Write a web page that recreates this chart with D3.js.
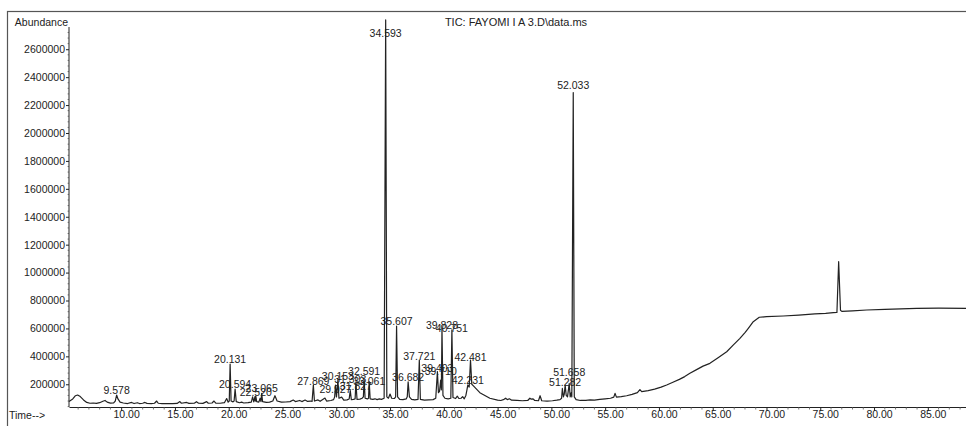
<!DOCTYPE html>
<html>
<head>
<meta charset="utf-8">
<script src="https://cdn.jsdelivr.net/npm/d3@7/dist/d3.min.js"></script>
<style>
  html, body { margin: 0; padding: 0; background: #fff; }
  svg { display: block; }
  text { font-family: "Liberation Sans", Arial, sans-serif; fill: #222; }
</style>
</head>
<body>
<svg id="chart" width="966" height="426"></svg>
<script>
// ---------------- DATA ----------------
const title = "TIC: FAYOMI I A 3.D\\data.ms";
const yLabel = "Abundance";
const xLabel = "Time-->";

const yTicks = [200000, 400000, 600000, 800000, 1000000, 1200000, 1400000,
                1600000, 1800000, 2000000, 2200000, 2400000, 2600000];
const xTicks = [10, 15, 20, 25, 30, 35, 40, 45, 50, 55, 60, 65, 70, 75, 80, 85];

// retention time (min)
const time = [
  5.15, 5.5, 5.75, 5.95, 6.2, 6.5, 6.8, 7.1, 7.4, 7.7, 8.0, 8.3, 8.5, 8.7, 9.0, 9.3, 9.45, 9.578, 9.7, 9.9,
  10.2, 10.6, 10.97, 11.2, 11.5, 11.7, 12.0, 12.21, 12.4, 12.8, 13.1, 13.3, 13.45, 13.8, 14.3, 14.8,
  15.2, 15.46, 15.6, 16.09, 16.3, 16.8, 17.0, 17.2, 17.6, 17.95, 18.1, 18.45, 18.63, 18.8, 19.2, 19.6,
  19.81, 19.95, 20.05, 20.131, 20.22, 20.4, 20.5, 20.594, 20.7, 21.0, 21.2, 21.4, 21.8, 22.1, 22.22,
  22.33, 22.44, 22.48, 22.52, 22.6, 22.8, 22.92, 23.0, 23.065, 23.15, 23.5, 23.8, 24.1, 24.3, 24.5,
  24.9, 25.3, 25.7, 26.0, 26.2, 26.6, 26.8, 27.1, 27.3, 27.6, 27.75, 27.869, 27.97, 28.3, 28.5, 28.95,
  29.1, 29.5, 29.75, 29.85, 29.927, 30.02, 30.153, 30.25, 30.5, 30.7, 31.0, 31.2, 31.303, 31.4, 31.6,
  31.75, 31.827, 31.93, 32.2, 32.4, 32.52, 32.591, 32.68, 32.9, 33.0, 33.061, 33.15, 33.4, 33.6, 33.8,
  34.0, 34.2, 34.45, 34.593, 34.7, 34.85, 35.0, 35.15, 35.4, 35.52, 35.607, 35.7, 35.9, 36.2, 36.5,
  36.6, 36.682, 36.8, 37.0, 37.3, 37.6, 37.721, 37.82, 38.2, 38.6, 39.0, 39.25, 39.403, 39.5, 39.6,
  39.71, 39.77, 39.828, 39.92, 40.1, 40.4, 40.65, 40.751, 40.85, 41.1, 41.25, 41.4, 41.6, 41.75, 41.9,
  42.05, 42.15, 42.231, 42.36, 42.481, 42.6, 42.73, 43.35, 44.28, 45.0, 45.3, 45.6, 45.75, 45.9, 46.1,
  46.3, 46.8, 47.3, 47.8, 48.0, 48.1, 48.3, 48.45, 48.8, 48.95, 49.1, 49.6, 50.1, 50.5, 50.8, 50.95,
  51.02, 51.12, 51.2, 51.282, 51.38, 51.5, 51.658, 51.75, 51.85, 51.9, 52.033, 52.13, 52.3, 52.7,
  53.2, 53.6, 54.0, 54.5, 55.0, 55.5, 55.8, 55.92, 56.05, 56.5, 57.0, 57.5, 58.0, 58.23, 58.4, 59.0,
  59.6, 60.2, 60.72, 61.3, 61.9, 62.4, 62.88, 63.5, 64.1, 64.74, 65.5, 66.3, 66.9, 67.53, 68.0, 68.31,
  68.77, 69.33, 70.0, 71.56, 73.0, 74.5, 75.5, 76.21, 76.55, 76.71, 76.88, 77.0, 78.0, 79.31, 81.0,
  83.96, 86.0, 88.55
];

// total ion current abundance
const abundance = [
  77000, 95000, 118000, 123000, 112000, 88000, 70000, 64000, 66000, 63000, 68000, 78000, 84000, 72000, 65000, 66000, 80000, 123000, 95000, 72000,
  66000, 62000, 70000, 62000, 68000, 62000, 64000, 70000, 63000, 62000, 64000, 80000, 64000, 62000, 61000, 62000,
  63000, 76000, 64000, 70000, 63000, 64000, 75000, 64000, 63000, 76000, 64000, 66000, 80000, 65000, 64000, 68000,
  98000, 72000, 80000, 345000, 80000, 74000, 80000, 166000, 76000, 68000, 72000, 66000, 68000, 72000, 110000,
  74000, 112000, 80000, 116000, 76000, 72000, 100000, 76000, 135000, 76000, 70000, 72000, 80000, 118000, 80000,
  72000, 73000, 76000, 87000, 76000, 84000, 76000, 87000, 78000, 80000, 78000, 195000, 80000, 88000, 78000, 101000,
  80000, 84000, 90000, 110000, 195000, 110000, 231000, 100000, 108000, 86000, 88000, 95000, 155000, 90000, 92000,
  95000, 212000, 92000, 94000, 100000, 110000, 232000, 100000, 95000, 100000, 220000, 96000, 92000, 96000, 90000,
  95000, 92000, 100000, 2810000, 110000, 100000, 130000, 100000, 98000, 110000, 617000, 110000, 92000, 90000, 95000,
  110000, 218000, 110000, 92000, 88000, 92000, 374000, 92000, 86000, 88000, 90000, 100000, 290000, 140000, 150000,
  230000, 160000, 600000, 120000, 100000, 96000, 100000, 589000, 105000, 98000, 115000, 98000, 100000, 112000, 96000,
  120000, 160000, 195000, 180000, 374000, 200000, 190000, 140000, 100000, 86000, 84000, 92000, 100000, 90000, 96000,
  86000, 84000, 82000, 84000, 100000, 94000, 96000, 84000, 82000, 118000, 82000, 80000, 82000, 86000, 90000, 100000,
  170000, 110000, 130000, 195000, 120000, 110000, 205000, 110000, 140000, 110000, 2290000, 110000, 90000, 84000,
  85000, 88000, 87000, 92000, 96000, 100000, 108000, 135000, 108000, 112000, 118000, 128000, 140000, 162000, 148000, 155000,
  165000, 180000, 195000, 215000, 235000, 255000, 279000, 305000, 330000, 350000, 390000, 433000, 480000, 529000, 570000, 601000,
  648000, 680000, 684000, 689000, 696000, 704000, 708000, 713000, 714000, 1078000, 730000, 722000, 726000, 732000, 737000,
  744000, 745000, 744000
];

// peak annotations: retention time text and the abundance level the label sits at
const peakLabels = ["9.578", "20.131", "20.594", "22.520", "23.065", "27.869", "29.927", "30.153",
                    "31.303", "31.827", "32.591", "33.061", "34.593", "35.607", "36.682", "37.721",
                    "39.403", "39.710", "39.828", "40.751", "42.231", "42.481", "51.282", "51.658", "52.033"];
const labelLevels = [130000, 352000, 173000, 116000, 145000, 195000, 137000, 231000,
                     209000, 159000, 266000, 195000, 2687000, 628000, 223000, 374000,
                     288000, 266000, 596000, 574000, 202000, 370000, 190000, 257000, 2315000];

// ---------------- CHART ----------------
const svg = d3.select("#chart");
const FS = 10.5;
const ink = "#222";

const x = d3.scaleLinear().domain([5.15, 88.55]).range([69, 966]);
const y = d3.scaleLinear().domain([0, 2800000]).range([412.2, 21.3]);
const xAxisY = 407;

// outer frame
svg.append("rect")
  .attr("x", 7.5).attr("y", 11.5).attr("width", 980).attr("height", 440)
  .attr("fill", "none").attr("stroke", "#555").attr("stroke-width", 1.2);

// title
svg.append("text").attr("x", 516).attr("y", 26).attr("text-anchor", "middle")
  .style("font-size", "11px").text(title);

// y axis
const yAxis = svg.append("g").attr("transform", "translate(69,0)")
  .call(d3.axisLeft(y).tickValues(yTicks).tickSize(3).tickPadding(1).tickFormat(d3.format("d")));
yAxis.select(".domain").remove();
yAxis.selectAll(".tick line").attr("stroke", ink);
yAxis.selectAll(".tick text").style("font-size", FS + "px").attr("fill", "#222")
  .style("font-family", "'Liberation Sans', Arial, sans-serif");
// minor y ticks
const yMinor = d3.range(40000, 2760000, 40000).filter(v => v % 200000 !== 0);
svg.append("g").selectAll("line").data(yMinor).join("line")
  .attr("x1", 67.5).attr("x2", 69).attr("y1", d => y(d)).attr("y2", d => y(d))
  .attr("stroke", "#777").attr("stroke-width", 0.8);
svg.append("line").attr("x1", 69).attr("x2", 69).attr("y1", 27).attr("y2", xAxisY)
  .attr("stroke", ink).attr("stroke-width", 1);

svg.append("text").attr("x", 68).attr("y", 26).attr("text-anchor", "end")
  .style("font-size", FS + "px").text(yLabel);

// x axis
const xAxis = svg.append("g").attr("transform", `translate(0,${xAxisY})`)
  .call(d3.axisBottom(x).tickValues(xTicks).tickSize(4).tickSizeOuter(0)
    .tickFormat(d3.format(".2f")));
xAxis.select(".domain").attr("stroke", ink);
xAxis.selectAll(".tick line").attr("stroke", ink);
xAxis.selectAll(".tick text").style("font-size", FS + "px").attr("fill", "#222")
  .attr("y", 4).attr("x", 5)
  .style("font-family", "'Liberation Sans', Arial, sans-serif");
const xMinor = d3.range(6, 89, 1).filter(v => v % 5 !== 0);
svg.append("g").selectAll("line").data(xMinor).join("line")
  .attr("x1", d => x(d)).attr("x2", d => x(d)).attr("y1", xAxisY).attr("y2", xAxisY + 2.5)
  .attr("stroke", "#555").attr("stroke-width", 0.8);

svg.append("text").attr("x", 9).attr("y", 418.5).style("font-size", FS + "px").text(xLabel);

// chromatogram trace
const pts = time.map((t, i) => [t, abundance[i]]);
svg.append("path").datum(pts)
  .attr("fill", "none").attr("stroke", ink).attr("stroke-width", 1.2)
  .attr("stroke-linejoin", "round")
  .attr("d", d3.line().x(d => x(d[0])).y(d => y(d[1])));

// peak labels
svg.append("g").selectAll("text").data(peakLabels).join("text")
  .attr("x", d => x(+d)).attr("y", (d, i) => y(labelLevels[i]))
  .attr("text-anchor", "middle").style("font-size", FS + "px")
  .text(d => d);
</script>
</body>
</html>
